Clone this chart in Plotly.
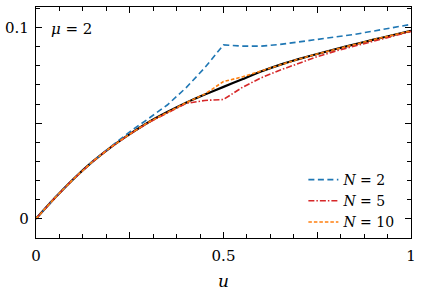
import plotly.graph_objects as go

u = [0, 0.05, 0.1, 0.15, 0.2, 0.25, 0.3, 0.35, 0.4, 0.45, 0.5,
     0.55, 0.6, 0.65, 0.7, 0.75, 0.8, 0.85, 0.9, 0.95, 1.0]
exact = [0, 0.0108, 0.0208, 0.0297, 0.0375, 0.0443, 0.0505, 0.0558, 0.0607, 0.0650, 0.0690,
         0.0730, 0.0770, 0.0805, 0.0835, 0.0862, 0.0888, 0.0913, 0.0937, 0.0960, 0.0983]
n2 = [0, 0.0108, 0.0208, 0.0297, 0.0378, 0.0455, 0.0524, 0.0595, 0.0685, 0.0790, 0.0910,
      0.0903, 0.0903, 0.0912, 0.0925, 0.0938, 0.0951, 0.0965, 0.0982, 0.0999, 0.1017]
n5 = [0, 0.0108, 0.0208, 0.0297, 0.0375, 0.0442, 0.0503, 0.0555, 0.0603, 0.0619, 0.0624,
      0.0687, 0.0737, 0.0777, 0.0814, 0.0848, 0.0878, 0.0903, 0.0930, 0.0955, 0.0980]
n10 = [0, 0.0108, 0.0208, 0.0297, 0.0375, 0.0443, 0.0505, 0.0558, 0.0607, 0.0652, 0.0718,
       0.0742, 0.0773, 0.0805, 0.0835, 0.0862, 0.0888, 0.0913, 0.0937, 0.0960, 0.0983]

x_ticks = [0, 0.25, 0.5, 0.75, 1]
x_labels = ["0", "", "0.5", "", "1"]
y_ticks = [0, 0.05, 0.1]
y_labels = ["0", "", "0.1"]

FONT = "DejaVu Serif"
fig = go.Figure()
fig.add_trace(go.Scatter(x=u, y=exact, mode="lines", showlegend=False,
                         line=dict(color="black", width=2.2, shape="spline", smoothing=0.6)))
fig.add_trace(go.Scatter(x=u, y=n2, mode="lines", name="<i>N</i> = 2",
                         line=dict(color="#1f77b4", width=1.6, dash="6px,3.5px")))
fig.add_trace(go.Scatter(x=u, y=n5, mode="lines", name="<i>N</i> = 5",
                         line=dict(color="#d62728", width=1.6, dash="6px,2px,1.5px,2px")))
fig.add_trace(go.Scatter(x=u, y=n10, mode="lines", name="<i>N</i> = 10",
                         line=dict(color="#ff7f0e", width=1.6, dash="3.5px,2px")))

axis_common = dict(showgrid=False, zeroline=False, showline=True, linecolor="black",
                   linewidth=1.2, mirror="ticks", ticks="inside", ticklen=6, tickwidth=1,
                   tickcolor="black", ticklabeloverflow="allow",
                   tickfont=dict(family=FONT, size=15, color="black"))
fig.update_xaxes(range=[0, 1], tickmode="array", tickvals=x_ticks, ticktext=x_labels,
                 minor=dict(dtick=0.0625, tick0=0, ticks="inside", ticklen=3.5,
                            tickcolor="black", tickwidth=1),
                 ticklabelstandoff=4, **axis_common)
fig.update_yaxes(range=[-0.0101, 0.1108], tickmode="array", tickvals=y_ticks, ticktext=y_labels,
                 minor=dict(dtick=0.01, tick0=0, ticks="inside", ticklen=3.5,
                            tickcolor="black", tickwidth=1),
                 ticklabelstandoff=3, **axis_common)

fig.add_annotation(text="<i>μ</i> = 2", xref="paper", yref="paper", x=0.035, y=0.905,
                   xanchor="left", yanchor="middle", showarrow=False,
                   font=dict(family=FONT, size=15, color="black"))
fig.add_annotation(text="<i>u</i>", xref="paper", yref="paper", x=0.5, y=-0.185,
                   xanchor="center", yanchor="middle", showarrow=False,
                   font=dict(family=FONT, size=17, color="black"))

fig.update_layout(
    width=421, height=297,
    margin=dict(l=32.3, r=10, t=5.3, b=59.3),
    plot_bgcolor="white", paper_bgcolor="white",
    font=dict(family=FONT),
    legend=dict(x=0.713, y=0.0, xanchor="left", yanchor="bottom",
                bgcolor="rgba(0,0,0,0)", font=dict(family=FONT, size=14, color="black"),
                tracegroupgap=0, itemwidth=30),
)
fig.write_html("out.html", config={"displayModeBar": False},
               post_script="document.body.style.margin='0';document.body.style.padding='0';")
